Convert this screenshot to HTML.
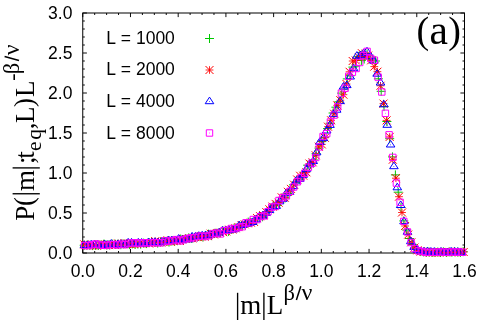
<!DOCTYPE html>
<html><head><meta charset="utf-8"><title>plot</title>
<style>
html,body{margin:0;padding:0;background:#fff;}
body{width:480px;height:324px;overflow:hidden;font-family:"Liberation Sans",sans-serif;}
svg{display:block;will-change:transform;}
.sans{font-family:"Liberation Sans",sans-serif;font-size:17.5px;fill:#000;}
.serif{font-family:"Liberation Serif",serif;fill:#000;}
</style></head><body>
<svg width="480" height="324" viewBox="0 0 480 324">
<defs>
<path id="p" d="M-4.5 0h9M0 -4.5v9" fill="none" stroke-width="1"/>
<g id="s" fill="none"><path d="M-3.9 0h7.8M0 -3.8v7.6" stroke-width="0.85"/><path d="M-4 -4l8 8M-4 4l8 -8" stroke-width="1.0"/></g>
<path id="t" d="M0 -4.4L4.3 2.2H-4.3ZM-0.3 0h0.6" fill="none" stroke-width="1"/>
<path id="q" d="M-3.2 -3.2h6.4v6.4h-6.4ZM-0.3 0h0.6" fill="none" stroke-width="1"/>
</defs>
<rect width="480" height="324" fill="#fff"/>
<path d="M82.75 253.0v-4.10M82.75 13.0v4.10M94.68 253.0v-2.00M94.68 13.0v2.00M106.61 253.0v-2.00M106.61 13.0v2.00M118.54 253.0v-2.00M118.54 13.0v2.00M130.47 253.0v-4.10M130.47 13.0v4.10M142.40 253.0v-2.00M142.40 13.0v2.00M154.33 253.0v-2.00M154.33 13.0v2.00M166.26 253.0v-2.00M166.26 13.0v2.00M178.19 253.0v-4.10M178.19 13.0v4.10M190.12 253.0v-2.00M190.12 13.0v2.00M202.05 253.0v-2.00M202.05 13.0v2.00M213.98 253.0v-2.00M213.98 13.0v2.00M225.91 253.0v-4.10M225.91 13.0v4.10M237.84 253.0v-2.00M237.84 13.0v2.00M249.77 253.0v-2.00M249.77 13.0v2.00M261.70 253.0v-2.00M261.70 13.0v2.00M273.62 253.0v-4.10M273.62 13.0v4.10M285.55 253.0v-2.00M285.55 13.0v2.00M297.48 253.0v-2.00M297.48 13.0v2.00M309.41 253.0v-2.00M309.41 13.0v2.00M321.34 253.0v-4.10M321.34 13.0v4.10M333.27 253.0v-2.00M333.27 13.0v2.00M345.20 253.0v-2.00M345.20 13.0v2.00M357.13 253.0v-2.00M357.13 13.0v2.00M369.06 253.0v-4.10M369.06 13.0v4.10M380.99 253.0v-2.00M380.99 13.0v2.00M392.92 253.0v-2.00M392.92 13.0v2.00M404.85 253.0v-2.00M404.85 13.0v2.00M416.78 253.0v-4.10M416.78 13.0v4.10M428.71 253.0v-2.00M428.71 13.0v2.00M440.64 253.0v-2.00M440.64 13.0v2.00M452.57 253.0v-2.00M452.57 13.0v2.00M464.50 253.0v-4.10M464.50 13.0v4.10M82.8 253.00h4.10M464.5 253.00h-4.10M82.8 245.00h2.00M464.5 245.00h-2.00M82.8 237.00h2.00M464.5 237.00h-2.00M82.8 229.00h2.00M464.5 229.00h-2.00M82.8 221.00h2.00M464.5 221.00h-2.00M82.8 213.00h4.10M464.5 213.00h-4.10M82.8 205.00h2.00M464.5 205.00h-2.00M82.8 197.00h2.00M464.5 197.00h-2.00M82.8 189.00h2.00M464.5 189.00h-2.00M82.8 181.00h2.00M464.5 181.00h-2.00M82.8 173.00h4.10M464.5 173.00h-4.10M82.8 165.00h2.00M464.5 165.00h-2.00M82.8 157.00h2.00M464.5 157.00h-2.00M82.8 149.00h2.00M464.5 149.00h-2.00M82.8 141.00h2.00M464.5 141.00h-2.00M82.8 133.00h4.10M464.5 133.00h-4.10M82.8 125.00h2.00M464.5 125.00h-2.00M82.8 117.00h2.00M464.5 117.00h-2.00M82.8 109.00h2.00M464.5 109.00h-2.00M82.8 101.00h2.00M464.5 101.00h-2.00M82.8 93.00h4.10M464.5 93.00h-4.10M82.8 85.00h2.00M464.5 85.00h-2.00M82.8 77.00h2.00M464.5 77.00h-2.00M82.8 69.00h2.00M464.5 69.00h-2.00M82.8 61.00h2.00M464.5 61.00h-2.00M82.8 53.00h4.10M464.5 53.00h-4.10M82.8 45.00h2.00M464.5 45.00h-2.00M82.8 37.00h2.00M464.5 37.00h-2.00M82.8 29.00h2.00M464.5 29.00h-2.00M82.8 21.00h2.00M464.5 21.00h-2.00M82.8 13.00h4.10M464.5 13.00h-4.10" stroke="#000" stroke-width="0.95" fill="none"/>
<rect x="82.75" y="13" width="381.75" height="240" fill="none" stroke="#000" stroke-width="1"/>
<g>
<g class="sans"><text x="82.8" y="276.8" text-anchor="middle">0.0</text><text x="130.5" y="276.8" text-anchor="middle">0.2</text><text x="178.2" y="276.8" text-anchor="middle">0.4</text><text x="225.9" y="276.8" text-anchor="middle">0.6</text><text x="273.6" y="276.8" text-anchor="middle">0.8</text><text x="321.3" y="276.8" text-anchor="middle">1.0</text><text x="369.1" y="276.8" text-anchor="middle">1.2</text><text x="416.8" y="276.8" text-anchor="middle">1.4</text><text x="464.5" y="276.8" text-anchor="middle">1.6</text><text x="72.4" y="259.0" text-anchor="end">0.0</text><text x="72.4" y="219.0" text-anchor="end">0.5</text><text x="72.4" y="179.0" text-anchor="end">1.0</text><text x="72.4" y="139.0" text-anchor="end">1.5</text><text x="72.4" y="99.0" text-anchor="end">2.0</text><text x="72.4" y="59.0" text-anchor="end">2.5</text><text x="72.4" y="19.0" text-anchor="end">3.0</text><text x="106.2" y="43.70">L <tspan dx="0.7">= 1000</tspan></text><use href="#p" x="209.5" y="38.50" stroke="#00c800"/><text x="106.2" y="75.43">L <tspan dx="0.7">= 2000</tspan></text><use href="#s" x="209.5" y="70.00" stroke="#ff0000"/><text x="106.2" y="107.16">L <tspan dx="0.7">= 4000</tspan></text><use href="#t" x="209.5" y="101.50" stroke="#0000ff"/><text x="106.2" y="138.89">L <tspan dx="0.7">= 8000</tspan></text><use href="#q" x="209.5" y="133.00" stroke="#ff00ff"/></g>
<g><g stroke="#00c800"><use href="#p" x="84.2" y="245.3"/><use href="#p" x="87.0" y="245.1"/><use href="#p" x="89.8" y="245.3"/><use href="#p" x="92.7" y="245.6"/><use href="#p" x="95.5" y="245.3"/><use href="#p" x="98.3" y="245.5"/><use href="#p" x="101.1" y="244.8"/><use href="#p" x="104.0" y="244.0"/><use href="#p" x="106.8" y="245.0"/><use href="#p" x="109.6" y="245.0"/><use href="#p" x="112.5" y="244.2"/><use href="#p" x="115.3" y="244.2"/><use href="#p" x="118.1" y="244.2"/><use href="#p" x="120.9" y="244.7"/><use href="#p" x="123.8" y="244.0"/><use href="#p" x="126.6" y="243.5"/><use href="#p" x="129.4" y="244.6"/><use href="#p" x="132.3" y="243.9"/><use href="#p" x="135.1" y="244.5"/><use href="#p" x="137.9" y="244.1"/><use href="#p" x="140.7" y="244.2"/><use href="#p" x="143.6" y="243.1"/><use href="#p" x="146.4" y="243.6"/><use href="#p" x="149.2" y="242.5"/><use href="#p" x="152.1" y="242.3"/><use href="#p" x="154.9" y="242.4"/><use href="#p" x="157.7" y="243.1"/><use href="#p" x="160.5" y="242.2"/><use href="#p" x="163.4" y="241.6"/><use href="#p" x="166.2" y="241.3"/><use href="#p" x="169.0" y="242.1"/><use href="#p" x="171.9" y="241.1"/><use href="#p" x="174.7" y="241.1"/><use href="#p" x="177.5" y="240.7"/><use href="#p" x="180.3" y="239.0"/><use href="#p" x="183.2" y="239.9"/><use href="#p" x="186.0" y="238.9"/><use href="#p" x="188.8" y="237.8"/><use href="#p" x="191.7" y="238.4"/><use href="#p" x="194.5" y="237.6"/><use href="#p" x="197.3" y="237.0"/><use href="#p" x="200.2" y="236.5"/><use href="#p" x="203.0" y="237.0"/><use href="#p" x="205.8" y="235.5"/><use href="#p" x="208.6" y="234.1"/><use href="#p" x="211.5" y="235.6"/><use href="#p" x="214.3" y="233.3"/><use href="#p" x="217.1" y="233.2"/><use href="#p" x="220.0" y="233.1"/><use href="#p" x="222.8" y="230.6"/><use href="#p" x="225.6" y="230.6"/><use href="#p" x="228.4" y="231.4"/><use href="#p" x="231.3" y="229.5"/><use href="#p" x="234.1" y="228.2"/><use href="#p" x="236.9" y="227.9"/><use href="#p" x="239.8" y="226.1"/><use href="#p" x="242.6" y="225.7"/><use href="#p" x="245.4" y="224.0"/><use href="#p" x="248.2" y="222.1"/><use href="#p" x="251.1" y="222.7"/><use href="#p" x="253.9" y="220.5"/><use href="#p" x="256.7" y="219.6"/><use href="#p" x="259.6" y="217.4"/><use href="#p" x="262.4" y="216.8"/><use href="#p" x="265.2" y="214.1"/><use href="#p" x="268.0" y="211.5"/><use href="#p" x="270.9" y="207.9"/><use href="#p" x="273.7" y="205.2"/><use href="#p" x="276.5" y="205.6"/><use href="#p" x="279.4" y="202.4"/><use href="#p" x="282.2" y="198.0"/><use href="#p" x="285.0" y="198.1"/><use href="#p" x="287.9" y="193.6"/><use href="#p" x="290.7" y="190.0"/><use href="#p" x="293.5" y="184.8"/><use href="#p" x="296.3" y="182.1"/><use href="#p" x="299.2" y="179.9"/><use href="#p" x="302.0" y="176.3"/><use href="#p" x="304.8" y="172.2"/><use href="#p" x="307.7" y="165.2"/><use href="#p" x="310.5" y="164.3"/><use href="#p" x="313.3" y="159.9"/><use href="#p" x="316.1" y="153.7"/><use href="#p" x="319.0" y="148.1"/><use href="#p" x="321.8" y="141.6"/><use href="#p" x="324.6" y="137.2"/><use href="#p" x="327.5" y="128.6"/><use href="#p" x="330.3" y="123.2"/><use href="#p" x="333.1" y="113.0"/><use href="#p" x="335.9" y="107.2"/><use href="#p" x="338.8" y="101.8"/><use href="#p" x="341.6" y="93.1"/><use href="#p" x="344.4" y="89.1"/><use href="#p" x="347.3" y="78.9"/><use href="#p" x="350.1" y="75.8"/><use href="#p" x="352.9" y="67.1"/><use href="#p" x="355.7" y="66.2"/><use href="#p" x="358.6" y="56.4"/><use href="#p" x="361.4" y="60.4"/><use href="#p" x="364.2" y="59.0"/><use href="#p" x="367.1" y="54.0"/><use href="#p" x="369.9" y="58.4"/><use href="#p" x="372.7" y="59.1"/><use href="#p" x="375.5" y="61.0"/><use href="#p" x="378.4" y="78.8"/><use href="#p" x="381.2" y="91.3"/><use href="#p" x="384.0" y="106.6"/><use href="#p" x="386.9" y="121.5"/><use href="#p" x="389.7" y="138.7"/><use href="#p" x="392.5" y="156.9"/><use href="#p" x="395.4" y="174.9"/><use href="#p" x="398.2" y="192.2"/><use href="#p" x="401.0" y="207.5"/><use href="#p" x="403.8" y="220.9"/><use href="#p" x="406.7" y="230.0"/><use href="#p" x="409.5" y="238.5"/><use href="#p" x="412.3" y="244.4"/><use href="#p" x="415.2" y="248.6"/><use href="#p" x="418.0" y="250.4"/><use href="#p" x="420.8" y="251.6"/><use href="#p" x="423.6" y="251.9"/><use href="#p" x="426.5" y="252.2"/><use href="#p" x="429.3" y="252.1"/><use href="#p" x="432.1" y="252.5"/><use href="#p" x="435.0" y="252.3"/><use href="#p" x="437.8" y="252.0"/><use href="#p" x="440.6" y="252.5"/><use href="#p" x="443.4" y="251.8"/><use href="#p" x="446.3" y="252.5"/><use href="#p" x="449.1" y="251.9"/><use href="#p" x="451.9" y="252.2"/><use href="#p" x="454.8" y="251.8"/><use href="#p" x="457.6" y="252.0"/><use href="#p" x="460.4" y="252.4"/><use href="#p" x="463.2" y="251.7"/></g><g stroke="#ff0000"><use href="#s" x="84.3" y="244.4"/><use href="#s" x="87.4" y="245.3"/><use href="#s" x="90.5" y="245.3"/><use href="#s" x="93.5" y="245.2"/><use href="#s" x="96.6" y="245.6"/><use href="#s" x="99.7" y="244.2"/><use href="#s" x="102.8" y="245.1"/><use href="#s" x="105.9" y="244.7"/><use href="#s" x="109.0" y="245.1"/><use href="#s" x="112.1" y="244.9"/><use href="#s" x="115.1" y="245.1"/><use href="#s" x="118.2" y="243.5"/><use href="#s" x="121.3" y="244.2"/><use href="#s" x="124.4" y="243.4"/><use href="#s" x="127.5" y="243.9"/><use href="#s" x="130.6" y="244.1"/><use href="#s" x="133.7" y="243.8"/><use href="#s" x="136.7" y="243.7"/><use href="#s" x="139.8" y="243.2"/><use href="#s" x="142.9" y="243.3"/><use href="#s" x="146.0" y="243.0"/><use href="#s" x="149.1" y="243.5"/><use href="#s" x="152.2" y="242.9"/><use href="#s" x="155.2" y="241.2"/><use href="#s" x="158.3" y="242.4"/><use href="#s" x="161.4" y="242.4"/><use href="#s" x="164.5" y="241.3"/><use href="#s" x="167.6" y="240.3"/><use href="#s" x="170.7" y="241.9"/><use href="#s" x="173.8" y="240.7"/><use href="#s" x="176.8" y="240.6"/><use href="#s" x="179.9" y="240.9"/><use href="#s" x="183.0" y="238.9"/><use href="#s" x="186.1" y="238.9"/><use href="#s" x="189.2" y="238.3"/><use href="#s" x="192.3" y="238.4"/><use href="#s" x="195.4" y="237.1"/><use href="#s" x="198.4" y="237.2"/><use href="#s" x="201.5" y="236.4"/><use href="#s" x="204.6" y="236.6"/><use href="#s" x="207.7" y="236.1"/><use href="#s" x="210.8" y="233.7"/><use href="#s" x="213.9" y="234.4"/><use href="#s" x="216.9" y="233.1"/><use href="#s" x="220.0" y="232.7"/><use href="#s" x="223.1" y="232.2"/><use href="#s" x="226.2" y="231.4"/><use href="#s" x="229.3" y="229.7"/><use href="#s" x="232.4" y="229.5"/><use href="#s" x="235.5" y="228.3"/><use href="#s" x="238.5" y="227.1"/><use href="#s" x="241.6" y="225.0"/><use href="#s" x="244.7" y="224.3"/><use href="#s" x="247.8" y="223.2"/><use href="#s" x="250.9" y="222.7"/><use href="#s" x="254.0" y="221.9"/><use href="#s" x="257.1" y="218.1"/><use href="#s" x="260.1" y="216.2"/><use href="#s" x="263.2" y="215.2"/><use href="#s" x="266.3" y="212.1"/><use href="#s" x="269.4" y="209.3"/><use href="#s" x="272.5" y="206.6"/><use href="#s" x="275.6" y="203.9"/><use href="#s" x="278.6" y="202.7"/><use href="#s" x="281.7" y="197.3"/><use href="#s" x="284.8" y="197.7"/><use href="#s" x="287.9" y="191.8"/><use href="#s" x="291.0" y="188.9"/><use href="#s" x="294.1" y="184.7"/><use href="#s" x="297.2" y="179.5"/><use href="#s" x="300.2" y="175.8"/><use href="#s" x="303.3" y="175.7"/><use href="#s" x="306.4" y="172.3"/><use href="#s" x="309.5" y="163.6"/><use href="#s" x="312.6" y="162.3"/><use href="#s" x="315.7" y="155.3"/><use href="#s" x="318.8" y="146.7"/><use href="#s" x="321.8" y="144.4"/><use href="#s" x="324.9" y="137.8"/><use href="#s" x="328.0" y="126.7"/><use href="#s" x="331.1" y="120.3"/><use href="#s" x="334.2" y="113.8"/><use href="#s" x="337.3" y="105.4"/><use href="#s" x="340.3" y="100.2"/><use href="#s" x="343.4" y="94.7"/><use href="#s" x="346.5" y="84.0"/><use href="#s" x="349.6" y="71.8"/><use href="#s" x="352.7" y="61.0"/><use href="#s" x="355.8" y="60.4"/><use href="#s" x="358.9" y="57.3"/><use href="#s" x="361.9" y="53.2"/><use href="#s" x="365.0" y="56.5"/><use href="#s" x="368.1" y="55.6"/><use href="#s" x="371.2" y="60.3"/><use href="#s" x="374.3" y="66.6"/><use href="#s" x="377.4" y="71.7"/><use href="#s" x="380.5" y="85.8"/><use href="#s" x="383.5" y="103.6"/><use href="#s" x="386.6" y="120.4"/><use href="#s" x="389.7" y="136.9"/><use href="#s" x="392.8" y="159.7"/><use href="#s" x="395.9" y="178.2"/><use href="#s" x="399.0" y="196.7"/><use href="#s" x="402.0" y="212.5"/><use href="#s" x="405.1" y="226.0"/><use href="#s" x="408.2" y="234.6"/><use href="#s" x="411.3" y="242.3"/><use href="#s" x="414.4" y="247.6"/><use href="#s" x="417.5" y="250.3"/><use href="#s" x="420.6" y="251.6"/><use href="#s" x="423.6" y="251.6"/><use href="#s" x="426.7" y="252.0"/><use href="#s" x="429.8" y="252.5"/><use href="#s" x="432.9" y="252.2"/><use href="#s" x="436.0" y="252.5"/><use href="#s" x="439.1" y="252.5"/><use href="#s" x="442.2" y="252.2"/><use href="#s" x="445.2" y="251.7"/><use href="#s" x="448.3" y="252.0"/><use href="#s" x="451.4" y="252.3"/><use href="#s" x="454.5" y="252.3"/><use href="#s" x="457.6" y="251.8"/><use href="#s" x="460.7" y="252.0"/><use href="#s" x="463.7" y="252.0"/></g><g stroke="#0000ff"><use href="#t" x="84.4" y="245.3"/><use href="#t" x="87.8" y="245.2"/><use href="#t" x="91.2" y="244.7"/><use href="#t" x="94.5" y="244.7"/><use href="#t" x="97.9" y="244.8"/><use href="#t" x="101.3" y="245.5"/><use href="#t" x="104.6" y="244.4"/><use href="#t" x="108.0" y="245.0"/><use href="#t" x="111.3" y="243.9"/><use href="#t" x="114.7" y="245.2"/><use href="#t" x="118.1" y="244.3"/><use href="#t" x="121.4" y="244.1"/><use href="#t" x="124.8" y="244.8"/><use href="#t" x="128.2" y="242.8"/><use href="#t" x="131.5" y="242.8"/><use href="#t" x="134.9" y="243.8"/><use href="#t" x="138.3" y="242.8"/><use href="#t" x="141.6" y="242.9"/><use href="#t" x="145.0" y="244.0"/><use href="#t" x="148.4" y="242.5"/><use href="#t" x="151.7" y="242.5"/><use href="#t" x="155.1" y="242.2"/><use href="#t" x="158.4" y="242.7"/><use href="#t" x="161.8" y="241.9"/><use href="#t" x="165.2" y="241.6"/><use href="#t" x="168.5" y="240.4"/><use href="#t" x="171.9" y="240.6"/><use href="#t" x="175.3" y="240.4"/><use href="#t" x="178.6" y="239.0"/><use href="#t" x="182.0" y="239.9"/><use href="#t" x="185.4" y="239.3"/><use href="#t" x="188.7" y="239.6"/><use href="#t" x="192.1" y="236.8"/><use href="#t" x="195.5" y="236.7"/><use href="#t" x="198.8" y="236.1"/><use href="#t" x="202.2" y="235.7"/><use href="#t" x="205.5" y="235.5"/><use href="#t" x="208.9" y="234.8"/><use href="#t" x="212.3" y="234.5"/><use href="#t" x="215.6" y="233.8"/><use href="#t" x="219.0" y="232.8"/><use href="#t" x="222.4" y="230.9"/><use href="#t" x="225.7" y="230.7"/><use href="#t" x="229.1" y="230.3"/><use href="#t" x="232.5" y="229.7"/><use href="#t" x="235.8" y="228.6"/><use href="#t" x="239.2" y="225.6"/><use href="#t" x="242.6" y="225.2"/><use href="#t" x="245.9" y="224.3"/><use href="#t" x="249.3" y="223.2"/><use href="#t" x="252.6" y="222.3"/><use href="#t" x="256.0" y="219.6"/><use href="#t" x="259.4" y="216.7"/><use href="#t" x="262.7" y="215.8"/><use href="#t" x="266.1" y="213.1"/><use href="#t" x="269.5" y="210.3"/><use href="#t" x="272.8" y="207.2"/><use href="#t" x="276.2" y="206.2"/><use href="#t" x="279.6" y="201.6"/><use href="#t" x="282.9" y="199.1"/><use href="#t" x="286.3" y="193.5"/><use href="#t" x="289.7" y="192.1"/><use href="#t" x="293.0" y="186.4"/><use href="#t" x="296.4" y="180.8"/><use href="#t" x="299.7" y="179.2"/><use href="#t" x="303.1" y="175.1"/><use href="#t" x="306.5" y="169.1"/><use href="#t" x="309.8" y="164.5"/><use href="#t" x="313.2" y="161.3"/><use href="#t" x="316.6" y="152.6"/><use href="#t" x="319.9" y="142.1"/><use href="#t" x="323.3" y="138.4"/><use href="#t" x="326.7" y="130.8"/><use href="#t" x="330.0" y="125.2"/><use href="#t" x="333.4" y="114.4"/><use href="#t" x="336.7" y="110.0"/><use href="#t" x="340.1" y="101.4"/><use href="#t" x="343.5" y="86.9"/><use href="#t" x="346.8" y="85.4"/><use href="#t" x="350.2" y="76.8"/><use href="#t" x="353.6" y="68.5"/><use href="#t" x="356.9" y="56.0"/><use href="#t" x="360.3" y="55.5"/><use href="#t" x="363.7" y="53.4"/><use href="#t" x="367.0" y="51.7"/><use href="#t" x="370.4" y="56.5"/><use href="#t" x="373.8" y="61.0"/><use href="#t" x="377.1" y="74.0"/><use href="#t" x="380.5" y="82.8"/><use href="#t" x="383.8" y="104.6"/><use href="#t" x="387.2" y="125.1"/><use href="#t" x="390.6" y="144.8"/><use href="#t" x="393.9" y="166.5"/><use href="#t" x="397.3" y="187.6"/><use href="#t" x="400.7" y="205.3"/><use href="#t" x="404.0" y="221.5"/><use href="#t" x="407.4" y="232.0"/><use href="#t" x="410.8" y="241.5"/><use href="#t" x="414.1" y="247.2"/><use href="#t" x="417.5" y="250.3"/><use href="#t" x="420.9" y="251.6"/><use href="#t" x="424.2" y="251.8"/><use href="#t" x="427.6" y="251.6"/><use href="#t" x="430.9" y="251.9"/><use href="#t" x="434.3" y="252.0"/><use href="#t" x="437.7" y="252.5"/><use href="#t" x="441.0" y="251.9"/><use href="#t" x="444.4" y="252.5"/><use href="#t" x="447.8" y="252.4"/><use href="#t" x="451.1" y="251.8"/><use href="#t" x="454.5" y="251.9"/><use href="#t" x="457.9" y="252.1"/><use href="#t" x="461.2" y="252.5"/></g><g stroke="#ff00ff"><use href="#q" x="84.6" y="245.5"/><use href="#q" x="88.3" y="245.6"/><use href="#q" x="91.9" y="244.7"/><use href="#q" x="95.6" y="244.0"/><use href="#q" x="99.3" y="244.8"/><use href="#q" x="102.9" y="245.3"/><use href="#q" x="106.6" y="245.4"/><use href="#q" x="110.3" y="244.6"/><use href="#q" x="113.9" y="244.5"/><use href="#q" x="117.6" y="245.0"/><use href="#q" x="121.3" y="244.1"/><use href="#q" x="124.9" y="244.7"/><use href="#q" x="128.6" y="243.1"/><use href="#q" x="132.3" y="243.0"/><use href="#q" x="135.9" y="242.8"/><use href="#q" x="139.6" y="243.5"/><use href="#q" x="143.3" y="242.7"/><use href="#q" x="147.0" y="242.9"/><use href="#q" x="150.6" y="242.8"/><use href="#q" x="154.3" y="242.5"/><use href="#q" x="158.0" y="242.8"/><use href="#q" x="161.6" y="242.7"/><use href="#q" x="165.3" y="240.9"/><use href="#q" x="169.0" y="241.2"/><use href="#q" x="172.6" y="240.6"/><use href="#q" x="176.3" y="239.6"/><use href="#q" x="180.0" y="240.9"/><use href="#q" x="183.6" y="239.8"/><use href="#q" x="187.3" y="238.6"/><use href="#q" x="191.0" y="237.8"/><use href="#q" x="194.6" y="237.8"/><use href="#q" x="198.3" y="236.2"/><use href="#q" x="202.0" y="236.1"/><use href="#q" x="205.7" y="236.5"/><use href="#q" x="209.3" y="235.6"/><use href="#q" x="213.0" y="233.6"/><use href="#q" x="216.7" y="233.1"/><use href="#q" x="220.3" y="233.9"/><use href="#q" x="224.0" y="230.6"/><use href="#q" x="227.7" y="230.2"/><use href="#q" x="231.3" y="228.5"/><use href="#q" x="235.0" y="228.7"/><use href="#q" x="238.7" y="227.4"/><use href="#q" x="242.3" y="226.7"/><use href="#q" x="246.0" y="222.8"/><use href="#q" x="249.7" y="222.9"/><use href="#q" x="253.3" y="219.5"/><use href="#q" x="257.0" y="219.6"/><use href="#q" x="260.7" y="216.6"/><use href="#q" x="264.4" y="215.9"/><use href="#q" x="268.0" y="211.7"/><use href="#q" x="271.7" y="207.1"/><use href="#q" x="275.4" y="206.5"/><use href="#q" x="279.0" y="200.5"/><use href="#q" x="282.7" y="197.8"/><use href="#q" x="286.4" y="195.9"/><use href="#q" x="290.0" y="191.3"/><use href="#q" x="293.7" y="187.0"/><use href="#q" x="297.4" y="181.8"/><use href="#q" x="301.0" y="177.8"/><use href="#q" x="304.7" y="173.3"/><use href="#q" x="308.4" y="167.2"/><use href="#q" x="312.0" y="163.1"/><use href="#q" x="315.7" y="157.5"/><use href="#q" x="319.4" y="146.9"/><use href="#q" x="323.1" y="136.5"/><use href="#q" x="326.7" y="133.6"/><use href="#q" x="330.4" y="122.0"/><use href="#q" x="334.1" y="115.1"/><use href="#q" x="337.7" y="106.9"/><use href="#q" x="341.4" y="93.1"/><use href="#q" x="345.1" y="88.2"/><use href="#q" x="348.7" y="76.3"/><use href="#q" x="352.4" y="72.2"/><use href="#q" x="356.1" y="68.5"/><use href="#q" x="359.7" y="62.5"/><use href="#q" x="363.4" y="55.6"/><use href="#q" x="367.1" y="51.4"/><use href="#q" x="370.7" y="58.4"/><use href="#q" x="374.4" y="60.2"/><use href="#q" x="378.1" y="77.1"/><use href="#q" x="381.8" y="92.0"/><use href="#q" x="385.4" y="113.3"/><use href="#q" x="389.1" y="134.8"/><use href="#q" x="392.8" y="157.4"/><use href="#q" x="396.4" y="183.1"/><use href="#q" x="400.1" y="202.3"/><use href="#q" x="403.8" y="221.4"/><use href="#q" x="407.4" y="231.9"/><use href="#q" x="411.1" y="242.5"/><use href="#q" x="414.8" y="248.5"/><use href="#q" x="418.4" y="250.8"/><use href="#q" x="422.1" y="251.5"/><use href="#q" x="425.8" y="252.4"/><use href="#q" x="429.4" y="252.3"/><use href="#q" x="433.1" y="252.2"/><use href="#q" x="436.8" y="252.3"/><use href="#q" x="440.5" y="251.9"/><use href="#q" x="444.1" y="252.2"/><use href="#q" x="447.8" y="252.2"/><use href="#q" x="451.5" y="251.9"/><use href="#q" x="455.1" y="252.2"/><use href="#q" x="458.8" y="251.9"/><use href="#q" x="462.5" y="252.3"/></g></g>
<g class="serif" font-size="41.5"><text x="416.55" y="43.1" font-size="38">(</text><text x="429.44" y="44.3">a</text><text x="448.35" y="43.1" font-size="38">)</text></g><g class="serif"><path d="M237.60 292.80V320.00" stroke="#000" stroke-width="1.35" fill="none"/><text x="240.33" y="313.80" font-size="27.0">m</text><path d="M263.90 292.80V320.00" stroke="#000" stroke-width="1.35" fill="none"/><text x="266.78" y="313.80" font-size="27.0">L</text><text x="283.53" y="299.60" font-size="22.5">β</text><text x="301.50" y="299.60" font-size="24.0">ν</text><path d="M296.40 299.90L300.80 286.20" stroke="#000" stroke-width="1.5" fill="none"/></g><g class="serif" transform="translate(33.6 221) rotate(-90)"><text x="0.39" y="0.00" font-size="27.0">P</text><text x="15.05" y="-0.80" font-size="27.0">(</text><path d="M27.25 -21.00V6.20" stroke="#000" stroke-width="1.35" fill="none"/><text x="30.03" y="0.00" font-size="27.0">m</text><path d="M53.10 -21.00V6.20" stroke="#000" stroke-width="1.35" fill="none"/><text x="56.90" y="0.00" font-size="27.0">;</text><text x="62.15" y="0.00" font-size="27.0">t</text><text x="69.96" y="7.30" font-size="21.6">e</text><text x="81.30" y="7.30" font-size="21.6">q</text><text x="91.66" y="0.00" font-size="27.0">,</text><text x="98.10" y="0.00" font-size="27.0">L</text><text x="113.96" y="-0.80" font-size="27.0">)</text><text x="124.08" y="0.00" font-size="27.0">L</text><text x="140.15" y="-14.20" font-size="21.6">-</text><text x="146.83" y="-14.20" font-size="22.5">β</text><text x="165.70" y="-14.20" font-size="24.0">ν</text><path d="M160.50 -14.60L164.50 -29.00" stroke="#000" stroke-width="1.5" fill="none"/></g>
</g>
</svg>
</body></html>
